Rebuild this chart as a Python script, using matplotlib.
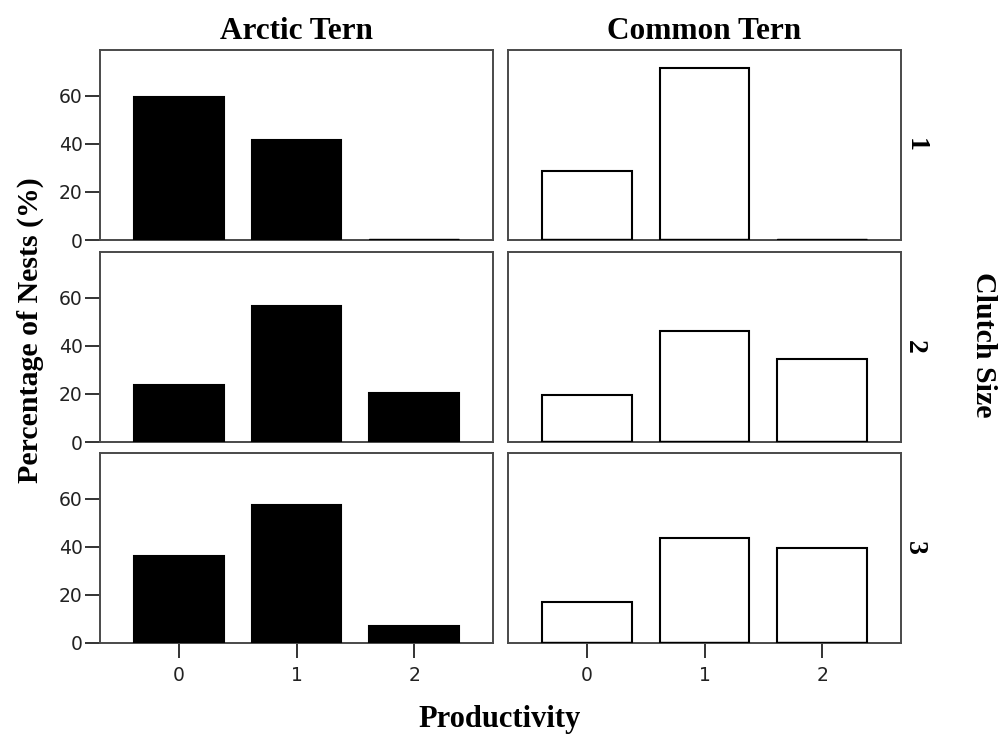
import matplotlib
matplotlib.use("Agg")
import matplotlib.pyplot as plt

# data
productivity = ["0", "1", "2"]
clutch_sizes = ["1", "2", "3"]
species = ["Arctic Tern", "Common Tern"]

arctic_pct = [
    [59.5, 41.5, 0.0],   # clutch 1
    [23.5, 56.5, 20.3],  # clutch 2
    [36.0, 57.5, 7.0],   # clutch 3
]
common_pct = [
    [28.8, 71.5, 0.0],
    [19.4, 46.3, 34.4],
    [17.0, 43.5, 39.5],
]
y_ticks = [0, 20, 40, 60]

W, H = 998, 740
fig = plt.figure(figsize=(W / 100, H / 100), dpi=100)

serif = "Liberation Serif"
spine_col = "#4a4a4a"

col_left = [100, 508]
col_width = 393
row_top = [50, 252, 453]
row_height = 190

fills = ["black", "white"]
all_data = [arctic_pct, common_pct]
xs = list(range(len(productivity)))

for c in range(2):
    for r in range(3):
        left = col_left[c] / W
        bottom = 1 - (row_top[r] + row_height) / H
        ax = fig.add_axes([left, bottom, col_width / W, row_height / H])
        ax.bar(xs, all_data[c][r], width=0.76, color=fills[c],
               edgecolor="black", linewidth=1.5, zorder=3)
        # heavier base line under each bar, as in the original
        ax.hlines([0] * len(xs), [x - 0.38 for x in xs], [x + 0.38 for x in xs],
                  color="black", linewidth=2.4, zorder=4)
        ax.set_xlim(-0.67, 2.67)
        ax.set_ylim(0, 79)
        for s in ax.spines.values():
            s.set_color(spine_col)
            s.set_linewidth(1.4)
        ax.tick_params(direction="out", length=10.5, width=1.4,
                       color="#333333", labelsize=13.5, labelcolor="#222222")
        ax.set_xticks(xs)
        if r == 2:
            ax.set_xticklabels(productivity)
            ax.tick_params(axis="x", pad=6)
        else:
            ax.tick_params(axis="x", length=0, labelbottom=False)
        ax.set_yticks(y_ticks)
        if c == 0:
            ax.tick_params(axis="y", pad=2)
        else:
            ax.tick_params(axis="y", length=0, labelleft=False)
        if r == 0:
            ax.set_title(species[c], family=serif, fontweight="bold",
                         fontsize=22.5, pad=8)
        if c == 1:
            ax.text(1.035, 0.5, clutch_sizes[r], transform=ax.transAxes,
                    rotation=-90, ha="center", va="center", family=serif,
                    fontweight="bold", fontsize=20)

fig.text(30 / W, 1 - 330 / H, "Percentage of Nests (%)", rotation=90,
         ha="center", va="center", family=serif, fontweight="bold",
         fontsize=21.5)
fig.text(984 / W, 1 - 345 / H, "Clutch Size", rotation=-90,
         ha="center", va="center", family=serif, fontweight="bold",
         fontsize=21.5)
fig.text(500 / W, 1 - 719 / H, "Productivity", ha="center", va="center",
         family=serif, fontweight="bold", fontsize=22)

fig.savefig("out.png", dpi=100)
